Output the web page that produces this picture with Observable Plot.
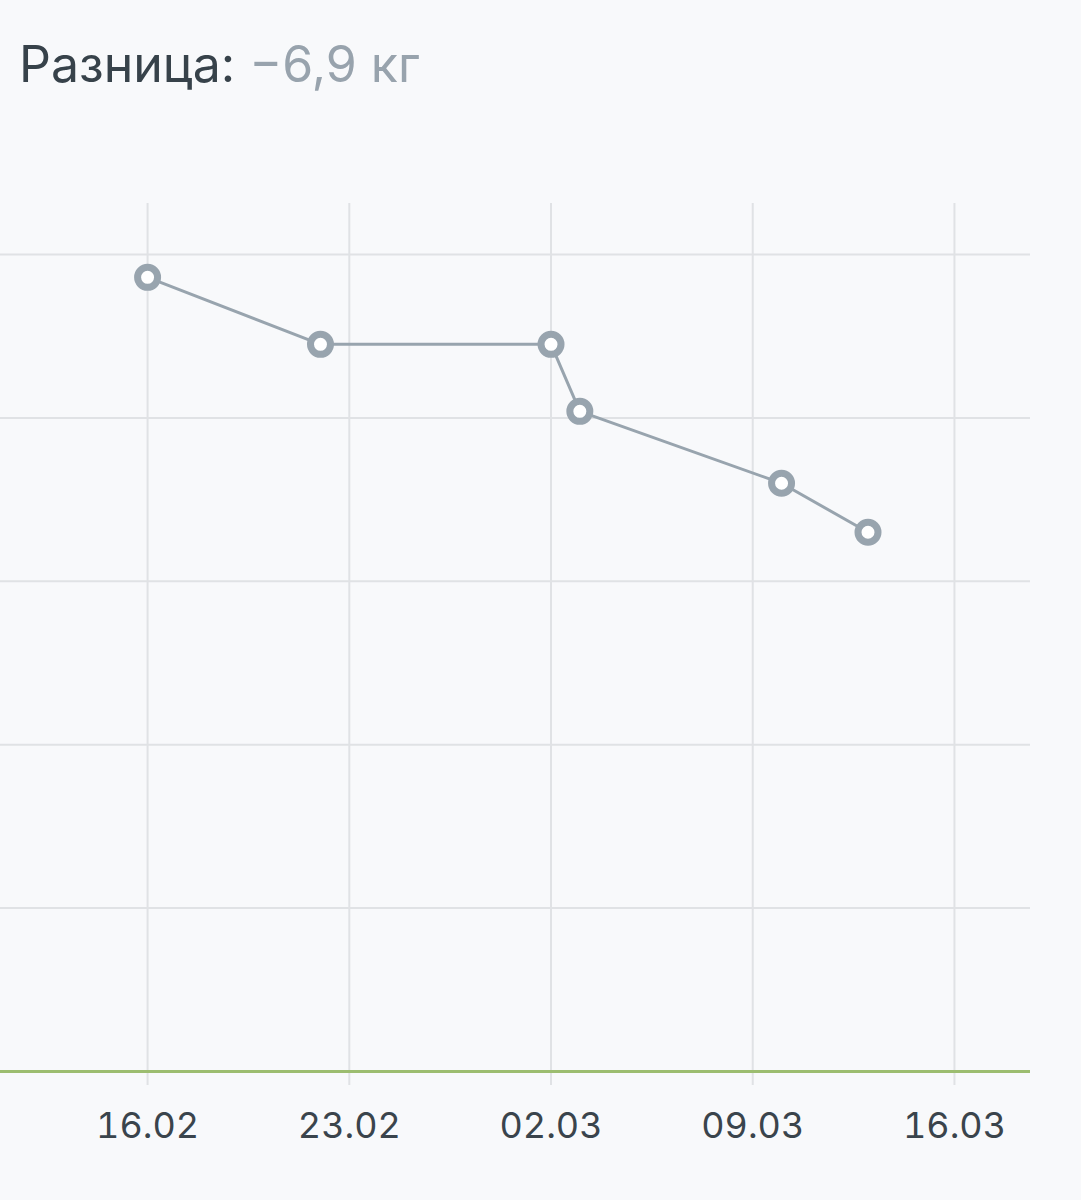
<!DOCTYPE html>
<html>
<head>
<meta charset="utf-8">
<script src="https://cdn.jsdelivr.net/npm/d3@7"></script>
<script src="https://cdn.jsdelivr.net/npm/@observablehq/plot@0.6"></script>
<style>
  html, body { margin: 0; padding: 0; background: #f8f9fb; }
  #title { height: 120px; box-sizing: border-box; padding: 39px 0 0 19px; font-family: Inter, "Noto Sans", sans-serif; font-size: 50px; line-height: 1; color: #37424a; white-space: nowrap; }
  #title .val { color: #98a3ad; }
  svg { display: block; }
</style>
</head>
<body>
<div id="title">Разница: <span class="val">−6,9 кг</span></div>
<div id="chart"></div>
<script>
// Data
const dates = ["2025-02-16", "2025-02-22", "2025-03-02", "2025-03-03", "2025-03-10", "2025-03-13"];
const weights = [99.3, 97.25, 97.25, 95.2, 93.0, 91.5];
const tickDates = ["2025-02-16", "2025-02-23", "2025-03-02", "2025-03-09", "2025-03-16"];
const gridValues = [80, 85, 90, 95, 100];
const baseValue = 75;
const xDomain = ["2025-02-10T21:30Z", "2025-03-18T15:20Z"];
const yDomain = [75, 101.56];

const data = dates.map((d, i) => ({date: new Date(d + "T00:00Z"), weight: weights[i]}));
const ticks = tickDates.map(d => new Date(d + "T00:00Z"));

const gridColor = "#e0e2e5";
const lineColor = "#98a4ae";

const chart = Plot.plot({
  width: 1081,
  height: 1080,
  marginLeft: 0,
  marginRight: 51,
  marginTop: 83,
  marginBottom: 129,
  style: {background: "transparent", fontFamily: "Inter, 'Noto Sans', sans-serif"},
  x: {type: "utc", domain: xDomain.map(d => new Date(d))},
  y: {domain: yDomain, axis: null},
  marks: [
    Plot.ruleY(gridValues, {stroke: gridColor, strokeWidth: 2, strokeOpacity: 1}),
    Plot.ruleX(ticks, {stroke: gridColor, strokeWidth: 2}),
    Plot.axisX({
      ticks: ticks,
      tickFormat: d3.utcFormat("%d.%m"),
      tickSize: 14,
      tickPadding: 27,
      stroke: gridColor,
      strokeWidth: 2,
      fontSize: 36,
      fill: "#3a444c"
    }),
    Plot.ruleY([baseValue], {stroke: "#9cbd70", strokeWidth: 3}),
    Plot.line(data, {x: "date", y: "weight", stroke: lineColor, strokeWidth: 3}),
    Plot.dot(data, {x: "date", y: "weight", r: 10, stroke: lineColor, strokeWidth: 7, fill: "#ffffff"})
  ]
});
document.getElementById("chart").appendChild(chart);
</script>
</body>
</html>
